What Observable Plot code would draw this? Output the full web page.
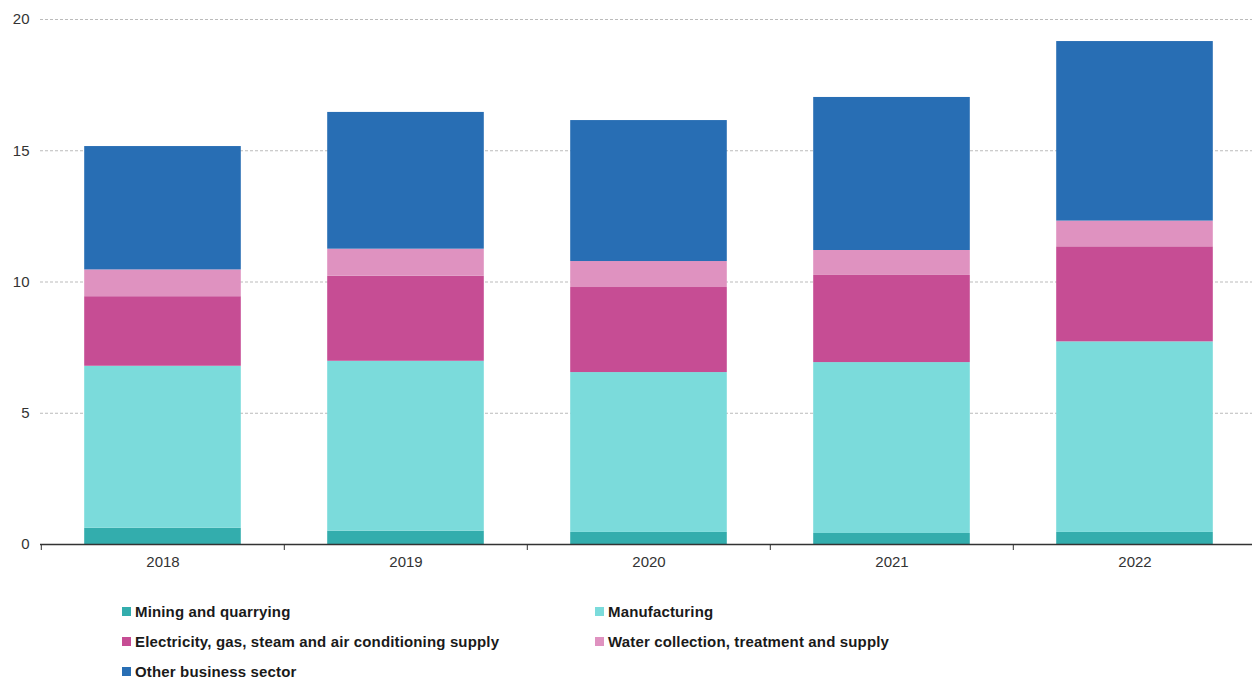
<!DOCTYPE html>
<html>
<head>
<meta charset="utf-8">
<script src="https://cdn.jsdelivr.net/npm/d3@7"></script>
<script src="https://cdn.jsdelivr.net/npm/@observablehq/plot@0.6"></script>
<style>
  body { margin: 0; background: #fff; font-family: "Liberation Sans", Arial, sans-serif; overflow: hidden; }
  #legend { position: relative; height: 100px; }
  .item { position: absolute; display: flex; align-items: center; font-weight: bold; font-size: 15px; letter-spacing: 0.15px; color: #1a1a1a; white-space: nowrap; }
  .sw { width: 9px; height: 9px; margin-right: 4px; }
</style>
</head>
<body>
<div id="chart"></div>
<div id="legend"></div>
<script>
const years = ["2018", "2019", "2020", "2021", "2022"];
const sectors = [
  "Mining and quarrying",
  "Manufacturing",
  "Electricity, gas, steam and air conditioning supply",
  "Water collection, treatment and supply",
  "Other business sector"
];
const colors = ["#33adad", "#7bdbdb", "#c64d94", "#df92c0", "#286eb4"];
const mining        = [0.62, 0.51, 0.46, 0.42, 0.46];
const manufacturing = [6.17, 6.47, 6.09, 6.51, 7.26];
const electricity   = [2.65, 3.24, 3.24, 3.32, 3.62];
const water         = [1.02, 1.03, 0.99, 0.95, 0.98];
const other         = [4.70, 5.21, 5.37, 5.83, 6.84];
const yTicks = [0, 5, 10, 15, 20];

const seriesVals = [mining, manufacturing, electricity, water, other];
const data = [];
years.forEach((yr, i) => {
  sectors.forEach((s, j) => data.push({year: yr, sector: s, value: seriesVals[j][i]}));
});

const W = 1252, ML = 40, MR = -5;
const bw = (W - ML - MR) / years.length;
const inset = (bw - 157) / 2;

const chart = Plot.plot({
  width: W,
  height: 580,
  marginLeft: ML,
  marginRight: MR,
  marginTop: 19,
  marginBottom: 36,
  style: {fontFamily: "'Liberation Sans', Arial, sans-serif", fontSize: "15px", color: "#333", background: "#fff", overflow: "visible"},
  x: {domain: years, padding: 0, label: null},
  y: {domain: [0, 20], label: null},
  color: {domain: sectors, range: colors},
  marks: [
    Plot.gridY(yTicks, {stroke: "#bbb", strokeOpacity: 1, strokeDasharray: "3,2"}),
    Plot.barY(data, Plot.stackY({x: "year", y: "value", fill: "sector", order: sectors, insetLeft: inset, insetRight: inset})),
    Plot.axisY(yTicks, {tickSize: 0, tickPadding: 11, label: null, fill: "#333"}),
    Plot.axisX({tickSize: 0, tickPadding: 12, label: null, fill: "#333"}),
    Plot.axisX({tickSize: 6, text: null, dx: -bw / 2, label: null, stroke: "#333"}),
    Plot.ruleY([0], {stroke: "#333", strokeWidth: 1.5})
  ]
});
document.getElementById("chart").appendChild(chart);

const legend = document.getElementById("legend");
const pos = [[122, 31], [595, 31], [122, 61], [595, 61], [122, 91]];
sectors.forEach((s, j) => {
  const d = document.createElement("div");
  d.className = "item";
  d.style.left = pos[j][0] + "px";
  d.style.top = (pos[j][1] - 10) + "px";
  d.style.height = "20px";
  d.innerHTML = `<span class="sw" style="background:${colors[j]}"></span><span>${s}</span>`;
  legend.appendChild(d);
});
</script>
</body>
</html>
